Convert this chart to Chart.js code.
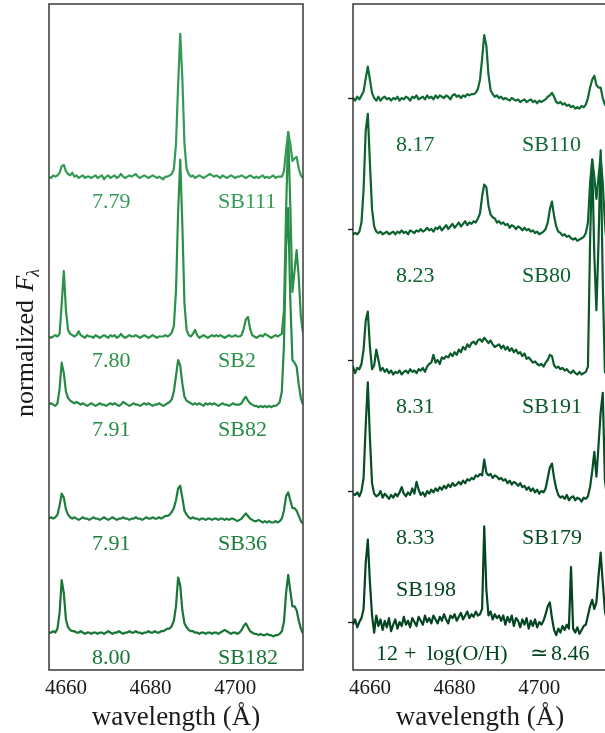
<!DOCTYPE html>
<html><head><meta charset="utf-8">
<script src="https://cdn.jsdelivr.net/npm/chart.js@4/dist/chart.umd.min.js"></script>
<style>
html,body{margin:0;padding:0;width:605px;height:733px;overflow:hidden;background:#fff}
#c1{position:absolute;left:0;top:0}
#c2{position:absolute;left:300px;top:0}
</style></head>
<body>
<canvas id="c1" width="310" height="733"></canvas>
<canvas id="c2" width="315" height="733"></canvas>
<script>
// ---------- data ----------
const wavelengths = [
4656,4656.5,4657,4657.5,4658,4658.5,4659,4659.5,4660,4660.5,
4661,4661.5,4662,4662.5,4663,4663.5,4664,4664.5,4665,4665.5,
4666,4666.5,4667,4667.5,4668,4668.5,4669,4669.5,4670,4670.5,
4671,4671.5,4672,4672.5,4673,4673.5,4674,4674.5,4675,4675.5,
4676,4676.5,4677,4677.5,4678,4678.5,4679,4679.5,4680,4680.5,
4681,4681.5,4682,4682.5,4683,4683.5,4684,4684.5,4685,4685.5,
4686,4686.5,4687,4687.5,4688,4688.5,4689,4689.5,4690,4690.5,
4691,4691.5,4692,4692.5,4693,4693.5,4694,4694.5,4695,4695.5,
4696,4696.5,4697,4697.5,4698,4698.5,4699,4699.5,4700,4700.5,
4701,4701.5,4702,4702.5,4703,4703.5,4704,4704.5,4705,4705.5,
4706,4706.5,4707,4707.5,4708,4708.5,4709,4709.5,4710,4710.5,
4711,4711.5,4712,4712.5,4713,4713.5,4714,4714.5,4715,4715.5,
4716];

// continuum-subtracted normalized flux (left panel)
const sb111 = [
0.00,-0.01,0.01,0.00,0.01,0.03,0.08,0.09,0.04,0.02,
0.01,0.03,0.00,0.01,-0.01,0.00,0.01,-0.01,0.00,0.00,
-0.01,0.00,0.01,-0.01,0.00,0.01,-0.02,0.00,0.01,-0.01,
0.00,0.01,-0.01,0.00,0.02,0.00,-0.01,0.00,0.01,0.00,
0.01,0.02,0.00,-0.01,0.00,0.01,0.00,-0.01,0.00,0.01,
0.00,-0.01,0.00,-0.01,-0.02,0.00,0.00,0.01,0.02,0.06,
0.25,0.70,1.09,0.75,0.25,0.06,0.02,0.00,0.01,-0.01,
0.00,0.01,0.00,-0.01,0.00,0.01,0.02,0.01,0.00,0.01,
0.00,-0.01,0.01,0.00,-0.01,0.00,0.01,0.00,-0.01,0.00,
0.00,0.01,0.00,-0.01,0.00,0.01,0.00,-0.01,0.00,-0.01,
0.00,0.01,-0.01,0.00,-0.01,0.00,0.01,-0.01,0.00,0.00,
0.00,0.04,0.20,0.34,0.25,0.12,0.14,0.15,0.06,0.01,
-0.01];
const sb2 = [
0.00,-0.01,0.00,0.01,0.00,0.02,0.25,0.50,0.20,0.05,
0.02,0.01,0.00,0.01,0.04,0.01,0.00,-0.01,0.01,0.00,
0.00,-0.01,0.01,0.00,-0.01,0.00,0.01,0.00,-0.01,0.01,
0.00,0.01,-0.01,0.00,0.02,0.00,-0.01,0.00,0.01,0.00,
0.00,0.01,0.00,-0.01,0.00,0.01,0.00,-0.01,0.00,0.01,
0.00,-0.01,0.00,0.00,0.00,0.01,0.00,0.01,0.03,0.08,
0.35,0.95,1.35,0.85,0.25,0.05,0.01,0.00,0.02,0.05,
0.01,-0.01,0.00,0.01,0.00,-0.01,0.00,0.01,0.00,0.01,
0.00,0.01,0.00,-0.01,0.00,0.01,0.00,0.00,0.01,0.00,
0.00,0.01,0.06,0.13,0.15,0.06,0.01,0.00,-0.01,0.00,
0.01,0.00,0.02,0.01,0.00,-0.01,0.00,0.01,0.00,0.01,
0.02,0.20,0.95,1.56,1.00,0.34,0.50,0.66,0.45,0.15,
0.03];
const sb82 = [
0.00,0.01,0.00,-0.01,0.01,0.12,0.32,0.24,0.10,0.05,
0.03,0.02,0.01,0.02,0.01,0.00,0.01,0.00,-0.01,0.00,
0.01,0.00,-0.01,0.00,0.01,0.00,0.00,-0.01,0.00,0.01,
0.00,0.01,0.00,-0.01,0.00,0.02,0.01,0.00,-0.01,0.00,
0.01,0.00,0.00,-0.01,0.00,0.01,0.00,0.01,0.00,-0.01,
0.00,0.00,0.01,0.00,-0.01,0.00,0.01,0.02,0.04,0.10,
0.22,0.34,0.30,0.16,0.06,0.03,0.02,0.01,0.00,0.01,
0.00,0.01,0.00,-0.01,0.01,0.00,0.01,0.00,0.01,0.00,
-0.01,0.00,0.01,0.00,0.00,-0.01,0.00,0.01,0.00,0.00,
0.00,0.01,0.04,0.06,0.03,0.01,0.00,-0.01,-0.01,-0.02,
-0.01,-0.02,-0.01,-0.02,-0.01,-0.02,-0.01,-0.01,0.00,0.02,
0.10,0.45,1.20,1.50,0.80,0.34,0.32,0.29,0.15,0.05,
0.00];
const sb36 = [
0.00,0.01,0.00,0.01,0.03,0.10,0.19,0.16,0.07,0.03,
0.01,0.00,0.01,0.00,-0.01,0.00,0.01,0.00,0.00,-0.01,
0.00,0.01,0.00,0.00,-0.01,0.00,0.01,0.00,-0.01,0.00,
0.01,0.00,-0.01,0.00,0.00,0.01,0.00,0.00,-0.01,0.00,
0.00,0.01,0.00,0.00,-0.01,0.00,0.01,0.00,0.00,0.01,
0.00,0.00,0.01,0.00,0.01,0.02,0.02,0.03,0.05,0.08,
0.14,0.23,0.25,0.16,0.06,0.03,0.01,0.00,0.01,0.00,
0.00,-0.01,0.00,0.00,-0.01,0.00,0.00,-0.01,0.00,0.00,
-0.01,0.00,0.00,-0.01,0.00,-0.01,0.00,0.00,-0.01,-0.02,
-0.01,0.00,0.02,0.04,0.02,0.00,-0.01,-0.02,-0.02,-0.01,
-0.02,-0.03,-0.02,-0.03,-0.02,-0.03,-0.03,-0.02,-0.03,-0.02,
0.00,0.06,0.17,0.20,0.14,0.08,0.08,0.06,0.02,-0.02,
-0.04];
const sb182 = [
0.00,0.00,0.01,0.00,0.03,0.15,0.40,0.30,0.10,0.04,
0.02,0.01,0.01,0.00,0.00,0.01,0.00,-0.01,0.00,0.00,
-0.01,0.00,0.00,-0.01,0.00,0.00,-0.01,0.00,0.01,0.00,
-0.01,0.00,0.00,0.01,0.00,-0.01,0.00,0.00,0.01,0.00,
0.00,0.01,0.00,0.00,-0.01,0.00,0.00,0.01,0.00,0.00,
0.01,0.00,0.00,0.01,0.01,0.02,0.03,0.03,0.05,0.09,
0.20,0.42,0.36,0.17,0.07,0.04,0.02,0.01,0.01,0.00,
0.00,-0.01,0.00,0.00,-0.01,0.00,0.00,-0.01,0.00,0.00,
-0.01,0.00,0.01,0.02,0.01,0.00,-0.01,0.00,0.00,-0.01,
0.00,0.02,0.05,0.07,0.04,0.01,0.00,-0.01,-0.01,-0.02,
-0.01,-0.02,-0.02,-0.01,-0.02,-0.02,-0.03,-0.02,-0.02,-0.01,
0.01,0.08,0.30,0.44,0.32,0.20,0.20,0.17,0.09,0.03,
-0.01];

// right panel
const sb110 = [
0.00,-0.02,0.01,-0.01,0.02,0.05,0.15,0.24,0.14,0.04,
0.00,-0.02,0.01,-0.02,0.00,0.01,-0.01,0.00,-0.02,0.00,
-0.01,0.01,-0.02,0.00,-0.01,0.01,0.00,-0.02,0.01,0.00,
0.02,-0.01,0.00,0.01,-0.01,0.02,0.00,0.01,-0.01,0.02,
0.00,0.02,0.01,0.00,0.02,0.01,-0.01,0.02,0.03,0.01,
0.02,0.00,0.02,0.01,0.03,0.02,0.03,0.03,0.04,0.07,
0.14,0.30,0.48,0.40,0.18,0.06,0.03,0.01,0.02,0.00,
0.01,-0.01,0.00,-0.01,-0.02,0.00,-0.01,-0.02,-0.01,-0.03,
-0.02,-0.01,-0.03,-0.02,-0.01,-0.03,-0.02,-0.04,-0.02,-0.03,
-0.02,-0.01,0.01,0.02,0.04,0.01,-0.03,-0.04,-0.03,-0.05,
-0.04,-0.06,-0.05,-0.07,-0.06,-0.08,-0.07,-0.08,-0.06,-0.07,
-0.05,0.00,0.08,0.14,0.17,0.10,0.08,0.08,0.00,-0.05,
-0.07];
const sb80 = [
-0.04,-0.03,-0.04,-0.02,0.05,0.30,0.75,0.88,0.50,0.15,
0.02,-0.02,-0.03,-0.02,-0.04,-0.03,-0.02,-0.04,-0.03,-0.02,
-0.04,-0.02,-0.03,-0.01,-0.03,-0.02,-0.04,-0.01,-0.02,-0.03,
-0.01,-0.02,0.00,-0.02,-0.01,0.01,-0.01,0.00,-0.02,0.01,
0.00,0.02,-0.01,0.01,0.03,0.00,0.02,0.04,0.01,0.03,
0.05,0.02,0.04,0.06,0.03,0.05,0.04,0.06,0.05,0.08,
0.12,0.25,0.34,0.32,0.18,0.11,0.09,0.08,0.05,0.06,
0.04,0.05,0.03,0.04,0.01,0.03,0.02,0.00,0.02,0.01,
-0.01,0.01,-0.01,0.00,-0.02,-0.01,-0.03,-0.02,-0.04,-0.03,
-0.02,0.00,0.05,0.15,0.21,0.10,0.02,-0.02,-0.03,-0.05,
-0.04,-0.06,-0.05,-0.07,-0.08,-0.07,-0.09,-0.08,-0.07,-0.06,
-0.03,0.05,0.35,0.53,0.40,0.23,0.40,0.56,0.35,0.05,
-0.15];
const sb191 = [
-0.05,-0.10,-0.06,-0.07,-0.03,0.08,0.30,0.37,0.10,-0.07,
-0.04,0.08,0.00,-0.08,-0.06,-0.09,-0.07,-0.10,-0.08,-0.11,
-0.09,-0.10,-0.08,-0.11,-0.09,-0.08,-0.10,-0.07,-0.09,-0.08,
-0.10,-0.07,-0.08,-0.06,-0.09,-0.05,-0.03,-0.02,0.04,-0.02,
0.00,-0.03,0.02,0.01,0.03,0.02,0.05,0.03,0.06,0.04,
0.08,0.06,0.10,0.08,0.12,0.10,0.13,0.14,0.12,0.15,
0.16,0.14,0.17,0.15,0.13,0.15,0.12,0.10,0.11,0.12,
0.09,0.11,0.08,0.10,0.07,0.09,0.06,0.08,0.05,0.06,
0.03,0.05,0.01,0.02,0.00,-0.02,-0.01,-0.03,-0.04,-0.03,
-0.05,-0.02,0.00,0.04,0.03,-0.04,-0.06,-0.05,-0.07,-0.06,
-0.08,-0.07,-0.09,-0.10,-0.08,-0.10,-0.11,-0.09,-0.11,-0.10,
-0.09,-0.05,0.90,1.53,0.80,0.38,0.90,1.60,0.60,-0.09,
-0.12];
const sb179 = [
-0.02,-0.03,-0.01,-0.04,0.00,0.10,0.50,0.83,0.40,0.06,
-0.02,-0.04,-0.03,0.00,-0.05,-0.02,-0.04,-0.06,-0.03,-0.05,
-0.02,-0.04,-0.01,0.03,-0.02,-0.04,-0.01,-0.03,0.02,-0.02,
0.07,0.01,-0.03,-0.01,-0.04,0.00,-0.02,0.01,-0.01,0.02,
0.00,0.03,0.01,0.04,0.02,0.05,0.03,0.06,0.04,0.05,
0.07,0.05,0.08,0.06,0.09,0.08,0.10,0.09,0.12,0.11,
0.13,0.12,0.24,0.14,0.12,0.13,0.10,0.12,0.11,0.09,
0.10,0.08,0.09,0.06,0.08,0.05,0.07,0.06,0.04,0.06,
0.03,0.04,0.01,0.03,0.00,0.02,-0.01,0.01,-0.02,0.00,
-0.01,0.02,0.10,0.18,0.21,0.10,0.02,-0.03,-0.05,-0.04,
-0.06,-0.03,-0.07,-0.05,-0.04,-0.07,-0.05,-0.06,-0.08,-0.05,
-0.06,-0.04,0.03,0.15,0.30,0.11,0.35,0.60,0.75,0.09,
-0.05];
const sb198 = [
-0.02,0.02,-0.04,0.00,0.03,0.10,0.45,0.63,0.30,0.05,
-0.08,0.05,-0.03,0.02,-0.06,0.01,-0.04,0.03,-0.07,-0.02,
0.02,-0.05,0.00,-0.03,0.04,-0.02,0.01,-0.04,0.03,0.00,
-0.03,0.04,0.01,-0.02,0.05,0.00,0.03,-0.01,0.05,0.02,
-0.01,0.04,0.01,0.06,0.02,-0.01,0.05,0.03,0.06,0.01,
0.04,0.07,0.02,0.05,0.08,0.03,0.06,0.04,0.08,0.05,
0.06,0.10,0.73,0.25,0.05,0.08,0.02,0.06,0.03,0.05,
0.01,0.05,-0.02,0.04,0.00,0.05,-0.03,0.03,0.01,-0.04,
0.02,-0.02,0.03,-0.05,0.01,-0.03,0.02,-0.04,0.00,-0.02,
0.01,0.06,0.12,0.15,0.03,-0.06,-0.10,-0.05,-0.08,-0.03,
-0.06,-0.02,-0.05,0.42,-0.05,-0.08,-0.04,-0.09,-0.06,-0.03,
-0.02,0.05,0.12,0.17,0.10,0.15,0.35,0.53,0.30,0.09,
0.00];

const leftNames   = ['SB111','SB2','SB82','SB36','SB182'];
const leftOH      = ['7.79','7.80','7.91','7.91','8.00'];
const leftOffsets = [3.40, 2.18, 1.66, 0.79, -0.08];
const leftSeries  = [sb111, sb2, sb82, sb36, sb182];
const leftColors  = ['#339b55','#2b9149','#258a44','#1d7e3c','#187536'];

const rightNames   = ['SB110','SB80','SB191','SB179','SB198'];
const rightOH      = ['8.17','8.23','8.31','8.33',''];
const rightOffsets = [4, 3, 2, 1, 0];
const rightSeries  = [sb110, sb80, sb191, sb179, sb198];
const rightColors  = ['#0f6a33','#0c622f','#09592b','#064f26','#044521'];

const xTicks = [4660, 4680, 4700];
const yTicks = [0, 1, 2, 3, 4];
const xMin = 4656, xMax = 4716;
const yMin = -0.366, yMax = 4.718;
const xTitle = 'wavelength (Å)';
const ohText = ['12', '+', 'log(O/H)', '≃', '8.46'];

// ---------- drawing ----------
const SERIF = '"Liberation Serif", "DejaVu Serif", serif';

function buildDatasets(series, offsets, colors) {
  return series.map((arr, k) => ({
    data: wavelengths.map((w, i) => ({ x: w, y: arr[i] + offsets[k] })),
    borderColor: colors[k],
    borderWidth: 2.2,
    pointRadius: 0,
    tension: 0,
    clip: 0,
    borderJoinStyle: 'round'
  }));
}

function panelPlugin(side) {
  return {
    id: 'panel_' + side,
    afterDraw(chart) {
      const { ctx, chartArea: a, scales } = chart;
      ctx.save();
      // frame
      ctx.strokeStyle = side === 'left' ? '#454545' : '#1a1a1a';
      ctx.lineWidth = side === 'left' ? 1.6 : 1.3;
      ctx.strokeRect(a.left, a.top, a.right - a.left, a.bottom - a.top);
      if (side === 'right') {
        yTicks.forEach(v => {
          const y = Math.round(scales.y.getPixelForValue(v)) + 0.5;
          ctx.beginPath(); ctx.moveTo(a.left - 5, y); ctx.lineTo(a.left, y); ctx.stroke();
        });
      }
      // labels
      ctx.font = '22px ' + SERIF;
      ctx.textAlign = 'left';
      ctx.textBaseline = 'alphabetic';
      const names = side === 'left' ? leftNames : rightNames;
      const oh = side === 'left' ? leftOH : rightOH;
      const offs = side === 'left' ? leftOffsets : rightOffsets;
      const cols = side === 'left' ? leftColors : rightColors;
      const dy = side === 'left' ? 31 : 53;
      names.forEach((n, k) => {
        const yb = scales.y.getPixelForValue(offs[k]);
        ctx.fillStyle = cols[k];
        if (oh[k]) {
          ctx.fillText(oh[k], a.left + 43, yb + dy);
          ctx.fillText(n, a.left + 169, yb + dy);
        } else {
          ctx.fillText(n, a.left + 43, yb - 26);
          const xs = [23, 51, 74, 177, 198];
          ohText.forEach((t, j) => ctx.fillText(t, a.left + xs[j], yb + 38));
        }
      });
      // x title
      ctx.fillStyle = '#1a1a1a';
      ctx.font = '27px ' + SERIF;
      ctx.textAlign = 'center';
      ctx.fillText(xTitle, (a.left + a.right) / 2, 725);
      // y title
      if (side === 'left') {
        ctx.save();
        ctx.translate(33, 417);
        ctx.rotate(-Math.PI / 2);
        ctx.textAlign = 'left';
        ctx.font = '26px ' + SERIF;
        const t1 = 'normalized ';
        ctx.fillText(t1, 0, 0);
        let w = ctx.measureText(t1).width + 2;
        ctx.font = 'italic 26px ' + SERIF;
        ctx.fillText('F', w, 0);
        w += ctx.measureText('F').width;
        ctx.font = 'italic 18px ' + SERIF;
        ctx.fillText('λ', w - 1, 6);
        ctx.restore();
      }
      ctx.restore();
    }
  };
}

function makeChart(id, side, series, offsets, colors, pad) {
  return new Chart(document.getElementById(id), {
    type: 'line',
    data: { datasets: buildDatasets(series, offsets, colors) },
    options: {
      responsive: false,
      animation: false,
      devicePixelRatio: 1,
      layout: { padding: pad },
      plugins: { legend: { display: false }, tooltip: { enabled: false } },
      scales: {
        x: {
          type: 'linear', min: xMin, max: xMax,
          afterBuildTicks: s => { s.ticks = xTicks.map(v => ({ value: v })); },
          afterFit: s => { s.height = 63; },
          grid: { display: false, drawTicks: false },
          border: { display: false },
          ticks: { color: '#1a1a1a', padding: 6, maxRotation: 0, autoSkip: false,
                   font: { family: SERIF, size: 21 }, callback: v => String(v) }
        },
        y: { type: 'linear', min: yMin, max: yMax, display: false }
      }
    },
    plugins: [panelPlugin(side)]
  });
}

makeChart('c1', 'left', leftSeries, leftOffsets, leftColors, { left: 49, right: 7, top: 4, bottom: 0 });
makeChart('c2', 'right', rightSeries, rightOffsets, rightColors, { left: 53, right: 8, top: 4, bottom: 0 });
</script>
</body></html>
